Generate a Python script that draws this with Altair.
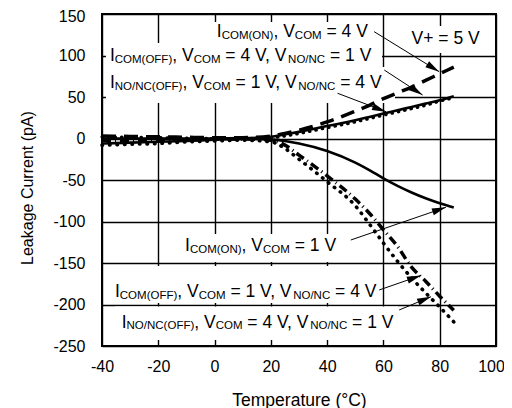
import math
import altair as alt
import pandas as pd

# ---------------- data ----------------
temps = [-40, -30, -20, -10, 0, 10, 20, 25, 30, 40, 50, 55, 60, 65, 70, 75, 80, 85]

icom_on_4v = [3, 2.5, 2, 1.5, 1, 1, 3, 6, 10, 20, 33, 40, 48, 55, 62, 70, 78, 86]
icom_off_4v = [0, 0, 0, 0, 0, 0.5, 2, 5, 8, 15, 22, 26, 30, 34, 38, 42, 46, 51]
ino_off_1v = [2, 1.5, 1, 0.5, 0, 0, 1, 3, 6, 13, 20, 24, 28, 32, 36, 40, 45, 49]
icom_on_1v = [-6, -5, -4, -3, -1.5, -0.5, -1, -3, -6, -15, -29, -38, -48, -57, -65, -72, -78, -83]
icom_off_1v = [-2, -2, -1.5, -1, -0.5, -0.5, -2, -8, -20, -45, -73, -90, -110, -130, -155, -172, -190, -207]
ino_off_4v = [-8, -7, -6, -4, -3, -2, -4, -12, -25, -52, -81, -103, -126, -148, -168, -186, -203, -221]

series_names = ["A", "B", "C", "D", "E", "F"]
series_values = [icom_on_4v, icom_off_4v, ino_off_1v, icom_on_1v, icom_off_1v, ino_off_4v]

x_ticks = [-40, -20, 0, 20, 40, 60, 80, 100]
y_ticks = [-250, -200, -150, -100, -50, 0, 50, 100, 150]

# ---------------- styles ----------------
line_styles = {
    "A": dict(strokeDash=[14, 8], strokeWidth=3.5, strokeCap="butt"),
    "B": dict(strokeWidth=2.6),
    "C": dict(strokeDash=[0.5, 6], strokeWidth=3.2, strokeCap="round"),
    "D": dict(strokeWidth=2.6),
    "E": dict(strokeDash=[9, 4, 1, 4], strokeWidth=3.5, strokeCap="butt"),
    "F": dict(strokeDash=[0.5, 7], strokeWidth=3.6, strokeCap="round"),
}

W_PX, H_PX = 394, 332
KX = W_PX / 140.0
KY = H_PX / 400.0
FONT = "Liberation Sans"
MAIN, SUB = 17.5, 11.5

# Arial/Liberation Sans advance widths (em)
WID = {'I': .278, 'C': .722, 'O': .778, 'M': .833, 'N': .722, '(': .333, ')': .333,
       ',': .278, ' ': .278, 'V': .667, '=': .584, '1': .556, '4': .556, '5': .556,
       'F': .611, '/': .278, '+': .584}

# annotation labels: (left T, baseline value, parts)
labels = [
    (0.8, 122, [("I", 0), ("COM(ON)", 1), (", V", 0), ("COM", 1), (" = 4 V", 0)]),
    (-37.2, 93, [("I", 0), ("COM(OFF)", 1), (", V", 0), ("COM", 1), (" = 4 V, V", 0), ("NO/NC", 1), (" = 1 V", 0)]),
    (-37.2, 60.5, [("I", 0), ("NO/NC(OFF)", 1), (", V", 0), ("COM", 1), (" = 1 V, V", 0), ("NO/NC", 1), (" = 4 V", 0)]),
    (70, 114, [("V+ = 5 V", 0)]),
    (-10.5, -136, [("I", 0), ("COM(ON)", 1), (", V", 0), ("COM", 1), (" = 1 V", 0)]),
    (-35.4, -191.3, [("I", 0), ("COM(OFF)", 1), (", V", 0), ("COM", 1), (" = 1 V, V", 0), ("NO/NC", 1), (" = 4 V", 0)]),
    (-33, -228, [("I", 0), ("NO/NC(OFF)", 1), (", V", 0), ("COM", 1), (" = 4 V, V", 0), ("NO/NC", 1), (" = 1 V", 0)]),
]

# white boxes behind labels (data units) that interrupt the grid
boxes_x1 = [-1.0, -38.6, -38.6, 67.6, -12.3, -37.2, -35.4]
boxes_x2 = [55.8, 59.5, 64.1, 97.9, 44.6, 58.8, 65.1]
boxes_y1 = [140.4, 115.1, 86.1, 135.5, -115.1, -153.6, -202.5]
boxes_y2 = [115.1, 86.1, 42.8, 103.0, -148.8, -198.2, -242.8]

# arrows: start -> end (data units)
arr_x1 = [56.7, 60.3, 43.7, 48.4, 58.5, 65.6]
arr_y1 = [128.7, 82.5, 54.5, -122.3, -182.5, -206.6]
arr_x2 = [79.8, 73.9, 60.9, 82.2, 73.3, 76.9]
arr_y2 = [80.5, 52.4, 32.3, -82.9, -165.1, -190.6]

# ---------------- build tables ----------------
rows = []
for name, vals in zip(series_names, series_values):
    for t, v in zip(temps, vals):
        rows.append({"T": t, "I": v, "s": name})
df = pd.DataFrame(rows)

trows = []
for t0, v0, parts in labels:
    off = 0.0
    for text, sub in parts:
        fs = SUB if sub else MAIN
        lead = len(text) - len(text.lstrip(" "))
        start = off + lead * WID[" "] * fs
        trows.append({"x": t0 + start / KX, "y": v0 - (1.5 / KY if sub else 0),
                      "text": text.strip(), "size": fs})
        off += sum(WID[c] for c in text) * fs
tdf = pd.DataFrame(trows)

bdf = pd.DataFrame({"x1": boxes_x1, "x2": boxes_x2, "y1": boxes_y1, "y2": boxes_y2})

angles = []
for a, b, c, d in zip(arr_x1, arr_y1, arr_x2, arr_y2):
    dx = (c - a) * KX
    dy = -(d - b) * KY
    angles.append(math.degrees(math.atan2(dy, dx)) % 360)
adf = pd.DataFrame({"x1": arr_x1, "y1": arr_y1, "x2": arr_x2, "y2": arr_y2, "ang": angles})

xscale = alt.Scale(domain=[-40, 100], nice=False)
yscale = alt.Scale(domain=[-250, 150], nice=False)

common_axis = dict(grid=True, gridColor="#000000", gridWidth=1.4, gridOpacity=1,
                   domain=False, ticks=False, labelFontSize=16, labelColor="black",
                   labelFont=FONT, labelFlush=False, labelOverlap=False,
                   labelExpr="datum.value + ''",
                   titleFontWeight="normal", titleFont=FONT, titleColor="black")

x_axis = alt.Axis(values=x_ticks, labelPadding=12, title="Temperature (°C)",
                  labelOffset={"condition": {"test": "datum.value == 100", "value": -5}, "value": 0},
                  titleFontSize=17.5, titleX=W_PX / 2, titleY=59,
                  titleBaseline="alphabetic", **common_axis)
y_axis = alt.Axis(values=y_ticks, labelPadding=17, title="Leakage Current (pA)",
                  labelOffset={"condition": {"test": "datum.value == 150", "value": 2}, "value": 0},
                  titleFontSize=16, titleAngle=270, titleX=-70, titleY=173.5,
                  titleBaseline="alphabetic", titleAlign="center", **common_axis)


def X(field):
    return alt.X(field, type="quantitative", scale=xscale, axis=x_axis)


def Y(field):
    return alt.Y(field, type="quantitative", scale=yscale, axis=y_axis)


boxes = alt.Chart(bdf).mark_rect(color="white").encode(
    x=X("x1"), x2="x2:Q", y=Y("y1"), y2="y2:Q",
)

line_layers = []
for name in series_names:
    st = line_styles[name]
    line_layers.append(
        alt.Chart(df[df.s == name]).mark_line(color="black", interpolate="monotone", **st).encode(
            x=X("T"), y=Y("I"),
        )
    )

arrows = alt.Chart(adf).mark_rule(color="black", strokeWidth=1).encode(
    x=X("x1"), x2="x2:Q", y=Y("y1"), y2="y2:Q",
)
heads = alt.Chart(adf).mark_point(
    shape="M0,0L-2,-0.5L-2,0.5Z", filled=True, color="black", size=196, opacity=1
).encode(
    x=X("x2"), y=Y("y2"),
    angle=alt.Angle("ang:Q", scale=None),
)

texts = alt.Chart(tdf).mark_text(align="left", baseline="alphabetic", font=FONT, color="black").encode(
    x=X("x"), y=Y("y"),
    text="text:N",
    size=alt.Size("size:Q", scale=None, legend=None),
)

chart = alt.layer(boxes, *line_layers, arrows, heads, texts).properties(
    width=W_PX, height=H_PX,
    autosize=alt.AutoSizeParams(type="none"),
    padding={"left": 94, "top": 6, "right": 8, "bottom": 62},
).configure(font=FONT, background="white").configure_view(stroke="black", strokeWidth=2)

chart.save("out.html", embed_options={"renderer": "svg", "actions": False})
